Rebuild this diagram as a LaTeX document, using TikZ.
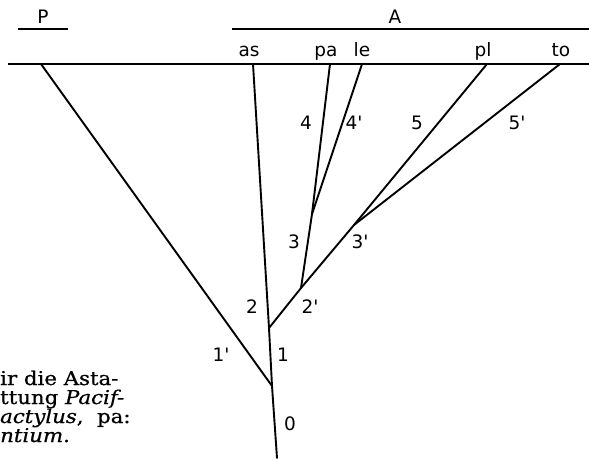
\documentclass[tikz,border=0pt]{standalone}
\usepackage{fontspec}
\setmainfont[FakeStretch=1.12,FakeBold=0.8]{DejaVu Serif}
\newfontfamily\labfont{DejaVu Sans}
\begin{document}
\begin{tikzpicture}[x=1pt,y=-1pt,
  branch/.style={line width=1.9pt,line cap=round},
  rule/.style={line width=1.5pt},
  lab/.style={font=\labfont\fontsize{18.5}{20}\selectfont,inner sep=0pt},
  head/.style={lab,anchor=base},
  captext/.style={font=\fontsize{19}{19}\selectfont,inner sep=0pt,anchor=base west}]
\useasboundingbox (0,0) rectangle (589,460);
% header
\node[head] (P) at (43,24) {P};
\node[head] (A) at (395,24) {A};
\coordinate (pl1) at (18,29); \coordinate (pr1) at (68,29);
\coordinate (al1) at (232,29); \coordinate (ar1) at (589,29);
\draw[rule] (pl1) -- (pr1);
\draw[rule] (al1) -- (ar1);
\node[head] (tas) at (249,57) {as};
\node[head] (tpa) at (326,57) {pa};
\node[head] (tle) at (362,57) {le};
\node[head] (tpl) at (483,57) {pl};
\node[head] (tto) at (561,57) {to};
\coordinate (hl) at (8,64); \coordinate (hr) at (589,64);
\draw[rule] (hl) -- (hr);
% tree points
\coordinate (root) at (277,458);
\coordinate (n1) at (272,386);
\coordinate (n2) at (269,328);
\coordinate (n2p) at (301,288);
\coordinate (n3) at (312,214);
\coordinate (n3p) at (354,225);
\coordinate (eP) at (41,64);
\coordinate (eas) at (253,64);
\coordinate (epa) at (330,64);
\coordinate (ele) at (362,64);
\coordinate (epl) at (487,64);
\coordinate (eto) at (560,64);
\draw[branch] (root) -- (n1);
\draw[branch] (n1) -- (eP);
\draw[branch] (n1) -- (n2);
\draw[branch] (n2) -- (eas);
\draw[branch] (n2) -- (n2p);
\draw[branch] (n2p) -- (n3);
\draw[branch] (n3) -- (epa);
\draw[branch] (n3) -- (ele);
\draw[branch] (n2p) -- (n3p);
\draw[branch] (n3p) -- (epl);
\draw[branch] (n3p) -- (eto);
% branch labels
\node[lab] (l4) at (306,123) {4};
\node[lab] (l4p) at (354,123) {4'};
\node[lab] (l5) at (417,123) {5};
\node[lab] (l5p) at (517,123) {5'};
\node[lab] (l3) at (294,242) {3};
\node[lab] (l3p) at (360,242) {3'};
\node[lab] (l2) at (252,307) {2};
\node[lab] (l2p) at (310,307) {2'};
\node[lab] (l1p) at (221,355) {1'};
\node[lab] (l1) at (283,355) {1};
\node[lab] (l0) at (290,424) {0};
% caption fragment
\node[captext] (c1) at (0,385) {ir die Asta-};
\node[captext] (c2) at (0,404) {ttung \textit{Pacif-}};
\node[captext] (c3) at (0,423) {\textit{actylus},~ pa:};
\node[captext] (c4) at (0,442) {\textit{ntium.}};
\end{tikzpicture}
\end{document}
